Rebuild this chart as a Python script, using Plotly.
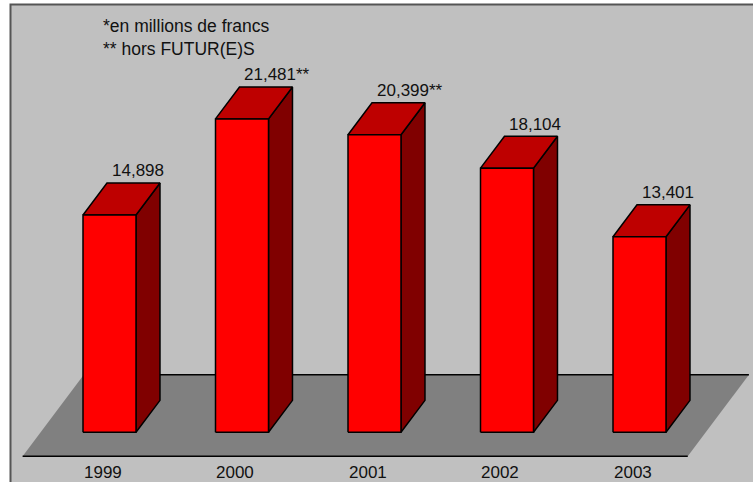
import plotly.graph_objects as go

# Chart data
years = ["1999", "2000", "2001", "2002", "2003"]
values = [14898, 21481, 20399, 18104, 13401]
suffixes = ["", "**", "**", "", ""]
notes = ["*en millions de francs", "** hors FUTUR(E)S"]

# 3D-look geometry, in axis units (categories on x, value on y)
BAR_W = 0.4
DEPTH_X = 0.181
DEPTH_Y = 2190
FLOOR_FRONT, FLOOR_BACK = -0.75, 1.8
FLOOR_X0, FLOOR_X1 = -0.52, 4.5

FRONT_COLOR = "#FF0000"
TOP_COLOR = "#BE0000"
SIDE_COLOR = "#800000"
FLOOR_COLOR = "#808080"
FONT = "Liberation Sans, Arial, sans-serif"


def shift(x, y, d):
    """Move a point d depth units backwards (up and to the right)."""
    return x + d * DEPTH_X, y + d * DEPTH_Y


def polygon(points, fill, line_width=1.5, line_color="black"):
    xs = [p[0] for p in points] + [points[0][0]]
    ys = [p[1] for p in points] + [points[0][1]]
    return go.Scatter(
        x=xs, y=ys, mode="lines", fill="toself", fillcolor=fill,
        line=dict(color=line_color, width=line_width),
        hoverinfo="skip", showlegend=False,
    )


fig = go.Figure()

# Floor plane
floor = [shift(FLOOR_X0, 0, FLOOR_FRONT), shift(FLOOR_X1, 0, FLOOR_FRONT),
         shift(FLOOR_X1, 0, FLOOR_BACK), shift(FLOOR_X0, 0, FLOOR_BACK)]
fig.add_trace(polygon(floor, FLOOR_COLOR, line_width=0, line_color=FLOOR_COLOR))
for d in (FLOOR_FRONT, FLOOR_BACK):
    a, b = shift(FLOOR_X0, 0, d), shift(FLOOR_X1, 0, d)
    fig.add_trace(go.Scatter(x=[a[0], b[0]], y=[a[1], b[1]], mode="lines",
                             line=dict(color="black", width=1.5),
                             hoverinfo="skip", showlegend=False))

# Bars: side, top, then front face
for i, v in enumerate(values):
    xl, xr = i - BAR_W / 2, i + BAR_W / 2
    side = [(xr, 0), shift(xr, 0, 1), shift(xr, v, 1), (xr, v)]
    top = [(xl, v), (xr, v), shift(xr, v, 1), shift(xl, v, 1)]
    front = [(xl, 0), (xr, 0), (xr, v), (xl, v)]
    fig.add_trace(polygon(side, SIDE_COLOR))
    fig.add_trace(polygon(top, TOP_COLOR))
    fig.add_trace(polygon(front, FRONT_COLOR))

annotations = []
# Value labels above each bar
for i, (v, s) in enumerate(zip(values, suffixes)):
    annotations.append(dict(
        x=i, y=v + DEPTH_Y, text=f"{v:,}{s}", showarrow=False,
        xanchor="left", yanchor="middle", xshift=0, yshift=12,
        font=dict(family=FONT, size=17, color="#111111"),
    ))
# Category labels below the floor
for i, yr in enumerate(years):
    annotations.append(dict(
        x=i, y=0.02, yref="paper", text=yr, showarrow=False,
        xanchor="center", yanchor="middle", xshift=-7,
        font=dict(family=FONT, size=17, color="#111111"),
    ))
# Footnotes
annotations.append(dict(
    x=101 / 753, y=1 - 37.8 / 482, xref="paper", yref="paper",
    text="<br>".join(notes), showarrow=False, align="left",
    xanchor="left", yanchor="middle",
    font=dict(family=FONT, size=17.5, color="#111111"),
))

fig.update_layout(
    width=753, height=482,
    margin=dict(l=0, r=0, t=0, b=0),
    paper_bgcolor="white", plot_bgcolor="white",
    xaxis=dict(range=[-109.5 / 132.5, (753 - 109.5) / 132.5], visible=False, fixedrange=True),
    yaxis=dict(range=[-3406, 29630], visible=False, fixedrange=True),
    shapes=[dict(
        type="rect", xref="paper", yref="paper", layer="below",
        x0=10.5 / 753, x1=1.05, y0=-0.05, y1=1 - 4.5 / 482,
        fillcolor="#C0C0C0", line=dict(color="#555555", width=2),
    )],
    annotations=annotations,
    showlegend=False,
    hovermode=False,
)

fig.write_html("out.html")
